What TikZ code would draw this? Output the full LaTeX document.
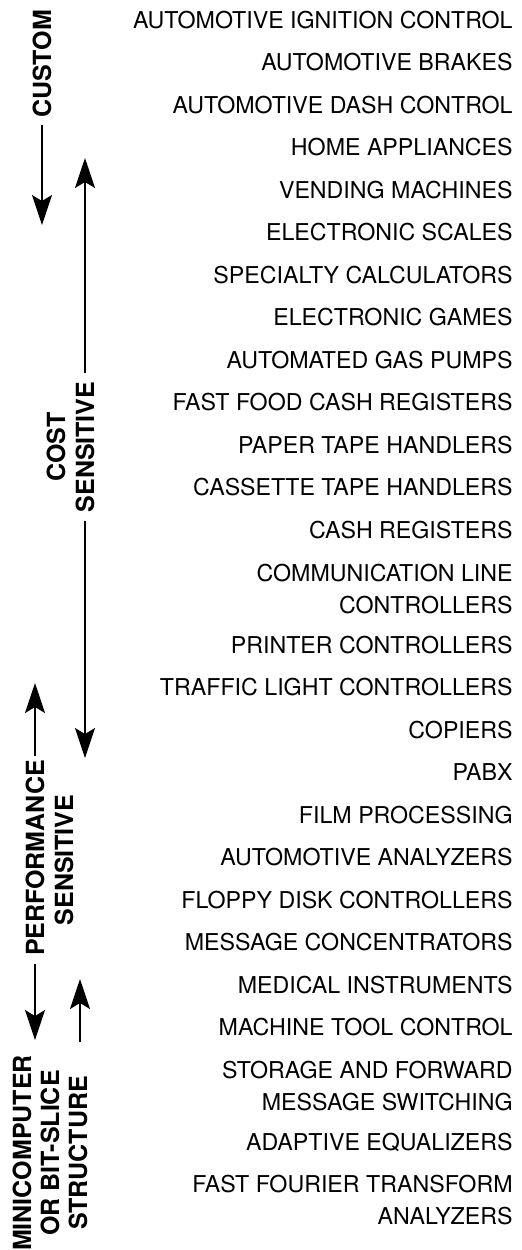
\documentclass[tikz,border=0pt]{standalone}
\usepackage{fontspec}
\setmainfont{TeX Gyre Heros}
\usetikzlibrary{arrows.meta,calc}
\tikzset{
	app/.style={anchor=east, inner sep=0pt, align=right, font=\fontsize{11.6}{16}\selectfont},
	side/.style={rotate=90, inner sep=0pt, align=center, font=\fontsize{12.5}{14}\selectfont\bfseries},
	sidearrow/.style={line width=0.8pt, -{Stealth[length=15pt,width=10pt,inset=3pt]}}
}

\begin{document}
\begin{tikzpicture}[x=0.5pt, y=-0.5pt]
			%%%%% START %%%%%
			\useasboundingbox (0, 0) rectangle (521, 1250);
			
			% applications, right column
			\node[app] (ign) at (513, 20) {AUTOMOTIVE IGNITION CONTROL};
			\node[app] (brakes) at (513, 62.5) {AUTOMOTIVE BRAKES};
			\node[app] (dash) at (513, 105) {AUTOMOTIVE DASH CONTROL};
			\node[app] (home) at (513, 147.5) {HOME APPLIANCES};
			\node[app] (vend) at (513, 190) {VENDING MACHINES};
			\node[app] (scales) at (513, 232.5) {ELECTRONIC SCALES};
			\node[app] (calc) at (513, 275) {SPECIALTY CALCULATORS};
			\node[app] (games) at (513, 317.5) {ELECTRONIC GAMES};
			\node[app] (gas) at (513, 360) {AUTOMATED GAS PUMPS};
			\node[app] (fastfood) at (513, 402.5) {FAST FOOD CASH REGISTERS};
			\node[app] (paper) at (513, 445) {PAPER TAPE HANDLERS};
			\node[app] (cassette) at (513, 487.5) {CASSETTE TAPE HANDLERS};
			\node[app] (cashreg) at (513, 530) {CASH REGISTERS};
			\node[app] (commline) at (513, 589) {COMMUNICATION LINE\\CONTROLLERS};
			\node[app] (printer) at (513, 645) {PRINTER CONTROLLERS};
			\node[app] (traffic) at (513, 687.5) {TRAFFIC LIGHT CONTROLLERS};
			\node[app] (copiers) at (513, 730) {COPIERS};
			\node[app] (pabx) at (513, 772.5) {PABX};
			\node[app] (film) at (513, 815) {FILM PROCESSING};
			\node[app] (autoanal) at (513, 857.5) {AUTOMOTIVE ANALYZERS};
			\node[app] (floppy) at (513, 900) {FLOPPY DISK CONTROLLERS};
			\node[app] (msgconc) at (513, 942.5) {MESSAGE CONCENTRATORS};
			\node[app] (medical) at (513, 985) {MEDICAL INSTRUMENTS};
			\node[app] (machine) at (513, 1027.5) {MACHINE TOOL CONTROL};
			\node[app] (storefwd) at (513, 1086) {STORAGE AND FORWARD\\MESSAGE SWITCHING};
			\node[app] (adaptive) at (513, 1142) {ADAPTIVE EQUALIZERS};
			\node[app] (fft) at (513, 1200) {FAST FOURIER TRANSFORM\\ANALYZERS};
			
			% custom
			\node[side] (custom) at (42, 64) {CUSTOM};
			\coordinate (customtip) at (42, 225);
			\draw[sidearrow] ([yshift=-3.5pt]custom.west) -- (customtip);
			
			% cost sensitive
			\node[side] (cost) at (56, 447) {COST};
			\node[side] (costsens) at (85, 447) {SENSITIVE};
			\coordinate (costtop) at (85, 158);
			\coordinate (costbot) at (85, 758);
			\draw[sidearrow] ([yshift=4pt]costsens.east) -- (costtop);
			\draw[sidearrow] ([yshift=-4pt]costsens.west) -- (costbot);
			
			% performance sensitive
			\node[side] (perf) at (35, 858) {PERFORMANCE};
			\node[side] (perfsens) at (64, 860) {SENSITIVE};
			\coordinate (perftop) at (35, 683);
			\coordinate (perfbot) at (35, 1040);
			\draw[sidearrow] ([yshift=2pt]perf.east) -- (perftop);
			\draw[sidearrow] ([yshift=-4pt]perf.west) -- (perfbot);
			
			% minicomputer
			\node[side] (mini) at (50, 1153) {MINICOMPUTER\\OR BIT-SLICE\\STRUCTURE};
			\coordinate (minitail) at (80, 1042);
			\coordinate (minitip) at (80, 979);
			\draw[sidearrow] (minitail) -- (minitip);
			
			%%%%% END %%%%%
\end{tikzpicture}
\end{document}
